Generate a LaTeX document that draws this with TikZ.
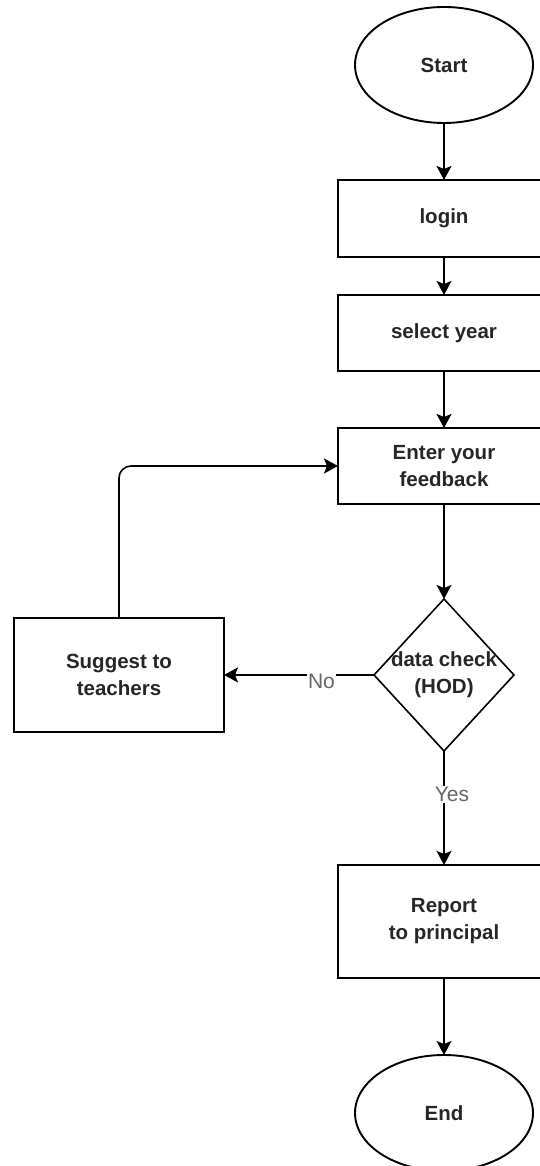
\documentclass[tikz,border=0pt]{standalone}
\usepackage{fontspec}
\setmainfont{Liberation Sans}
\usetikzlibrary{shapes.geometric,arrows.meta}
\begin{document}
\begin{tikzpicture}[x=1pt,y=1pt,
  every node/.style={inner sep=0pt, outer sep=0pt},
  txt/.style={font=\fontsize{20.5}{27}\selectfont\bfseries, text=black!85, align=center},
  term/.style={ellipse, draw, line width=1.9pt, txt},
  procbox/.style={rectangle, draw, line width=1.6pt, minimum width=212, txt},
  dia/.style={diamond, draw, line width=1.6pt, minimum width=140, minimum height=152},
  lbl/.style={font=\fontsize{21}{24}\selectfont, text=black!60, fill=white, inner sep=1pt},
  arr/.style={draw, line width=1.6pt, -{Stealth[length=14pt,width=15pt,inset=3pt]}}
]
\useasboundingbox (0,0) rectangle (540,1166);
\node[term, minimum width=178, minimum height=116] (start) at (444,1101) {Start};
\node[procbox, minimum height=77] (login) at (444,947.5) {login};
\node[procbox, minimum height=76] (year) at (444,833) {select year};
\node[procbox, minimum height=76] (enter) at (444,700) {Enter your\\feedback};
\node[dia] (check) at (444,491) {};
\node[txt] at (check) {data check\\(HOD)};
\node[procbox, minimum width=210, minimum height=114] (sug) at (119,491) {Suggest to\\teachers};
\node[procbox, minimum height=113] (report) at (444,244.5) {Report\\to principal};
\node[term, minimum width=178, minimum height=116] (end) at (444,53) {End};

\draw[arr] (start) -- (login);
\draw[arr] (login) -- (year);
\draw[arr] (year) -- (enter);
\draw[arr] (enter) -- (check);
\draw[arr] (check) -- node[lbl, pos=0.35, yshift=-6pt] {No} (sug);
\draw[arr, rounded corners=12pt] (sug.north) |- (enter.west);
\draw[arr] (check) -- node[lbl, pos=0.38, xshift=8pt] {Yes} (report);
\draw[arr] (report) -- (end);
\end{tikzpicture}
\end{document}
